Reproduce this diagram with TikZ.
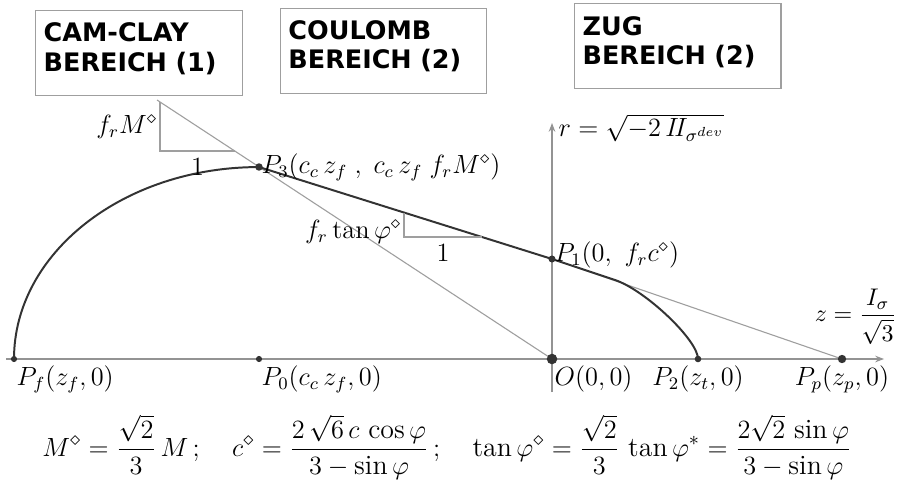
\documentclass[tikz,border=0pt]{standalone}
\usepackage{amsmath}
\usepackage{amssymb}
\usepackage{fontspec}
\newfontfamily\zonefont{DejaVu Sans}
\usetikzlibrary{positioning, calc, arrows.meta}

\begin{document}
\begin{tikzpicture}[
    x=0.016cm, y=0.016cm,
    node distance=0.6cm and 0.6cm,
    zone/.style={rectangle, draw=gray!75, line width=0.5pt, minimum width=3.3cm,
                 minimum height=1.36cm, text width=3.05cm, align=left, text depth=19pt,
                 font=\zonefont\bfseries\fontsize{11.6}{13.4}\selectfont},
    lbl/.style={font=\large, inner sep=1pt},
    axis/.style={gray!85, line width=0.5pt, -{Stealth[length=4pt, width=3pt]}},
    guide/.style={gray!75, line width=0.5pt},
    yield/.style={black!80, line width=0.9pt},
    dot/.style={fill=black!80}
]
    \useasboundingbox (0,0) rectangle (909,490);

    % zones
    \node [zone] (camclay) at (139,437) {CAM-CLAY\\BEREICH (1)};
    \node [zone, right=0.6cm of camclay, yshift=1pt] (coulomb) {COULOMB\\BEREICH (2)};
    \node [zone, right=1.39cm of coulomb, yshift=2pt] (zug) {ZUG\\BEREICH (2)};

    % axes
    \coordinate (zstart) at (6,131);
    \coordinate (zend) at (884,131);
    \coordinate (rstart) at (552,98);
    \coordinate (rend) at (552,367);
    \draw [axis] (zstart) -- (zend);
    \draw [axis] (rstart) -- (rend);

    % points
    \coordinate (Pf) at (14,131);
    \coordinate (P0) at (259,131);
    \coordinate (O) at (552,131);
    \coordinate (P2) at (698,131);
    \coordinate (Pp) at (842,131);
    \coordinate (P3) at (259,323);
    \coordinate (P1) at (552,231);
    \coordinate (csl) at (157,390);
    \coordinate (cap) at (615,210);

    % lines
    \draw [guide] (csl) -- (O);
    \draw [guide] (P1) -- (Pp);
    \draw [yield] (Pf) arc[start angle=180, end angle=90, x radius=3.92cm, y radius=3.072cm];
    \draw [yield] (P3) -- (P1) -- (cap) .. controls (645,200) and (698,150) .. (P2);

    % slope triangles
    \coordinate (m1a) at (160,388);
    \coordinate (m1c) at (160,339);
    \coordinate (m1b) at (235,339);
    \draw [guide] (m1a) -- (m1c) -- (m1b);
    \coordinate (t2a) at (404,277);
    \coordinate (t2c) at (404,253);
    \coordinate (t2b) at (482,253);
    \draw [guide] (t2a) -- (t2c) -- (t2b);

    % dots
    \fill [dot] (Pf) circle[radius=1.4pt];
    \fill [dot] (P0) circle[radius=1.4pt];
    \fill [dot] (O) circle[radius=2.4pt];
    \fill [dot] (P2) circle[radius=1.5pt];
    \fill [dot] (Pp) circle[radius=1.9pt];
    \fill [dot] (P3) circle[radius=1.7pt];
    \fill [dot] (P1) circle[radius=1.6pt];

    % labels
    \node [lbl, anchor=west] (p3lbl) at (P3) {$P_3(c_c\,z_f\;,\;c_c\,z_f\;f_rM^\diamond)$};
    \node [lbl, right=0pt of P1, yshift=2pt] (p1lbl) {$P_1(0,\ f_rc^\diamond)$};
    \node [lbl, anchor=west] (rlbl) at ([shift={(4,-5)}]rend) {$r=\sqrt{-2\,I\!I_{\sigma^{dev}}}$};
    \node [lbl, font=\fontsize{11}{13}\selectfont, anchor=south east] (zlbl)
        at ([shift={(15,12)}]zend) {$z=\dfrac{I_\sigma}{\sqrt{3}}$};
    \node [lbl, below right=2pt and 0pt of Pf] (pflbl) {$P_f(z_f,0)$};
    \node [lbl, below right=2pt and 0pt of P0] (p0lbl) {$P_0(c_c\,z_f,0)$};
    \node [lbl, below right=2pt and 0pt of O] (olbl) {$O(0,0)$};
    \node [lbl, below=2pt of P2] (p2lbl) {$P_2(z_t,0)$};
    \node [lbl, below=2pt of Pp] (pplbl) {$P_p(z_p,0)$};
    \node [lbl, anchor=east] (m1lbl) at ($(m1a)!0.5!(m1c)$) {$f_rM^\diamond$};
    \node [lbl, anchor=north, yshift=-2pt] (m1one) at ($(m1c)!0.5!(m1b)$) {$1$};
    \node [lbl, anchor=east, yshift=-3pt] (t2lbl) at ($(t2a)!0.5!(t2c)$) {$f_r\tan\varphi^\diamond$};
    \node [lbl, anchor=north, yshift=-2pt] (t2one) at ($(t2c)!0.5!(t2b)$) {$1$};

    % formulas
    \node [lbl, font=\fontsize{12.7}{15}\selectfont] (defs) at (447,43) {$\displaystyle M^\diamond=\frac{\sqrt{2}}{3}\,M\,;\quad
        c^\diamond=\frac{2\,\sqrt{6}\,c\,\cos\varphi}{3-\sin\varphi}\,;\quad
        \tan\varphi^\diamond=\frac{\sqrt{2}}{3}\,\tan\varphi^*=\frac{2\sqrt{2}\,\sin\varphi}{3-\sin\varphi}$};
\end{tikzpicture}
\end{document}
